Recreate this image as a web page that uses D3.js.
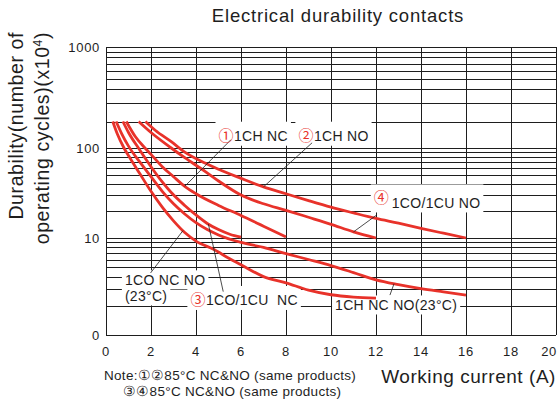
<!DOCTYPE html>
<html><head><meta charset="utf-8">
<script src="https://cdn.jsdelivr.net/npm/d3@7"></script>
<style>
html,body{margin:0;padding:0;background:#fff;}
svg{display:block;font-family:"Liberation Sans",Arial,Helvetica,sans-serif;}
</style></head><body>
<svg id="chart" width="560" height="405"></svg>
<script>
// ---------- data ----------
const titleText = "Electrical durability contacts";
const xTicks = [0,2,4,6,8,10,12,14,16,18,20];
const yTickValues = [1,10,100,1000];
const yTickLabels = ["0","10","100","1000"];
const seriesLabels = ["1CH NO","1CO/1CU NO","1CH NC","1CO/1CU NC","1CH NC NO(23°C)","1CO NC NO(23°C)"];

const chNoX = [1.75,2.2,2.9,3.5,4.4,5,6,7,8,9,10,11,12,13,14,15,16];
const chNoY = [200,158,118,90,68,58,46,37,31,26,22,19,16.5,14.6,12.8,11.3,10];
const coNoX = [1.45,2,2.9,3.5,4.4,5,6,7,8,9,10,11,12];
const coNoY = [200,150,100,78,55,43,30,24,20.3,17,14.2,11.7,10];
const chNcX = [0.9,1.3,1.7,2,2.5,3,3.5,4,5,6,7,8];
const chNcY = [200,135,102,85,62,48,37.5,31,23,17.8,13.5,10.3];
const coNcX = [0.75,1,1.5,2,2.5,2.9,3.5,4,4.5,5,5.5,6];
const coNcY = [200,150,95,62,42,32,23,18,14.5,12.4,11,10.2];
const chRtX = [0.45,0.7,1,1.5,2,2.5,3,3.5,4,4.5,5,6,7,8,9,10,11,12,13,14,15,16];
const chRtY = [200,145,105,70,48,33,24,18.5,14.8,12.4,10.8,9.0,8,6.9,6,5.2,4.4,3.7,3.3,3.0,2.78,2.58];
const coRtX = [0.3,0.5,0.8,1.1,1.5,2,2.5,3,3.5,4,4.8,5.5,6,7,8,9,10,11,12];
const coRtY = [200,145,100,75,52,33,22,15.5,11.5,9.3,7.6,6.1,5.3,4.0,3.45,2.9,2.6,2.46,2.4];

const noteLines = ["Note:①②85°C NC&NO (same products)","③④85°C NC&NO (same products)"];

// ---------- setup ----------
const svg = d3.select("#chart");
const red = "#e8322a";
const ink = "#1e1e1e";
const markFont = "'Noto Sans CJK JP','DejaVu Sans',sans-serif";
const xScale = d3.scaleLinear().domain([0,20]).range([106,556]);
const yScale = d3.scaleLog().domain([1,10,100,200,1000]).range([335,238,148,121.5,47]);
const crisp = v => Math.round(v) + 0.5;

const series = [
  {name: seriesLabels[0], xs: chNoX, vs: chNoY},
  {name: seriesLabels[1], xs: coNoX, vs: coNoY},
  {name: seriesLabels[2], xs: chNcX, vs: chNcY},
  {name: seriesLabels[3], xs: coNcX, vs: coNcY},
  {name: seriesLabels[4], xs: chRtX, vs: chRtY},
  {name: seriesLabels[5], xs: coRtX, vs: coRtY}
];
const pts = s => s.xs.map((d,i)=>[d, s.vs[i]]);

// ---------- grid ----------
const gGrid = svg.append("g");
const minorVals = [];
[1,10,100].forEach(d => { for (let k=1;k<10;k++) minorVals.push(k*d); });
minorVals.push(1000);
gGrid.selectAll("line.h").data(minorVals).join("line").attr("class","h")
  .attr("x1", xScale(0)).attr("x2", xScale(20))
  .attr("y1", d=>crisp(yScale(d))).attr("y2", d=>crisp(yScale(d)))
  .attr("stroke", ink).attr("stroke-width", 1);
gGrid.selectAll("line.v").data(xTicks).join("line").attr("class","v")
  .attr("x1", d=>crisp(xScale(d))).attr("x2", d=>crisp(xScale(d)))
  .attr("y1", yScale(1000)).attr("y2", yScale(1))
  .attr("stroke", ink).attr("stroke-width", 1);

// ---------- tick labels ----------
svg.append("g").selectAll("text").data(yTickValues).join("text")
  .attr("x", xScale(0) - 6).attr("y", d=>yScale(d)).attr("dy","0.36em")
  .attr("text-anchor","end").attr("font-size",13).attr("letter-spacing",0.7)
  .attr("fill", ink).text((d,i)=>yTickLabels[i]);
svg.append("g").selectAll("text").data(xTicks).join("text")
  .attr("x", d=> d === 20 ? xScale(d) + 1 : xScale(d))
  .attr("y", yScale(1) + 21)
  .attr("text-anchor", d=> d === 20 ? "end" : "middle")
  .attr("font-size",13).attr("letter-spacing",0.7)
  .attr("fill", ink).text(d=>d);

// ---------- layers ----------
const gBg = svg.append("g");
const gCurves = svg.append("g");
const gPtr = svg.append("g");
const gLab = svg.append("g");

// curves
const line = d3.line().x(d=>xScale(d[0])).y(d=>yScale(d[1])).curve(d3.curveMonotoneX);
gCurves.selectAll("path").data(series).join("path")
  .attr("d", s=>line(pts(s))).attr("fill","none")
  .attr("stroke", red).attr("stroke-width", 2.8);

function yAt(s, xv){
  const p = pts(s);
  for (let i=1;i<p.length;i++){
    if (xv <= p[i][0]){
      const t = (xv - p[i-1][0])/(p[i][0]-p[i-1][0]);
      return yScale(p[i-1][1]) + t*(yScale(p[i][1]) - yScale(p[i-1][1]));
    }
  }
  return yScale(p[p.length-1][1]);
}

// annotations (positions in data units)
const annotations = [
  {mark:"①", x:5.0, v:121, lines:["1CH NC"], from:[5.55,124], s:2, at:3.5, raise:0},
  {mark:"②", x:8.55, v:121, lines:["1CH NO"], from:[9.16,114.6], s:0, at:7.0, raise:0},
  {mark:"④", x:11.9, v:21.3, lines:["1CO/1CU NO"], from:[12.03,18.0], s:1, at:11.0, raise:5, gap:3},
  {mark:"", x:0.84, v:3.25, lines:["1CO NC NO"], from:[1.98,4.36], s:5, at:3.42},
  {mark:"", x:0.84, v:2.22, lines:["(23°C)"]},
  {mark:"③", x:3.75, v:2.04, lines:["1CO/1CU  NC"], from:[5.21,2.8], s:3, at:4.55, raise:0},
  {mark:"", x:10.18, v:1.79, lines:["1CH NC NO(23°C)"], from:[12.62,2.58], s:4, at:12.8}
];

annotations.forEach(a => {
  const t = gLab.append("text").attr("x", xScale(a.x)).attr("y", yScale(a.v))
    .attr("font-size",14).attr("letter-spacing",0.3).attr("fill", ink)
    .style("white-space","pre");
  if (a.mark){
    t.append("tspan").attr("fill", red).attr("font-family", markFont)
      .attr("font-size",15).attr("letter-spacing",0).attr("dy", -a.raise).text(a.mark);
    t.append("tspan").attr("dy", a.raise).attr("dx", a.gap || 0.5).text(a.lines[0]);
  } else {
    t.text(a.lines[0]);
  }
  const b = t.node().getBBox();
  gBg.append("rect").attr("x", b.x-3).attr("y", b.y-2)
    .attr("width", b.width+6).attr("height", b.height+3).attr("fill","#fff");
  if (a.from){
    gPtr.append("line")
      .attr("x1", xScale(a.from[0])).attr("y1", yScale(a.from[1]))
      .attr("x2", xScale(a.at)).attr("y2", yAt(series[a.s], a.at))
      .attr("stroke", ink).attr("stroke-width", 0.8);
  }
});

// ---------- titles ----------
svg.append("text").attr("x", 338).attr("y", 22).attr("text-anchor","middle")
  .attr("font-size",18.5).attr("letter-spacing",0.8).attr("fill", ink).text(titleText);

const yTitle = svg.append("g").attr("fill", ink).attr("font-size",19.5).attr("letter-spacing",0.6);
yTitle.append("text").attr("transform","translate(23,32) rotate(-90)")
  .attr("text-anchor","end").text("Durability(number of");
const t2 = yTitle.append("text").attr("transform","translate(49,32) rotate(-90)")
  .attr("text-anchor","end");
t2.append("tspan").text("operating cycles)(x10");
t2.append("tspan").attr("font-size",12).attr("dy",-7).text("4");
t2.append("tspan").attr("dy",7).text(")");

svg.append("text").attr("x", 556).attr("y", 383).attr("text-anchor","end")
  .attr("font-size",19).attr("letter-spacing",0.55).attr("fill", ink)
  .text("Working current (A)");

// notes
const notes = svg.append("text").attr("font-size",13.5).attr("letter-spacing",0.3).attr("fill", ink);
notes.append("tspan").attr("x",104).attr("y",380).text(noteLines[0]);
notes.append("tspan").attr("x",123).attr("y",396).text(noteLines[1]);
</script>
</body></html>
